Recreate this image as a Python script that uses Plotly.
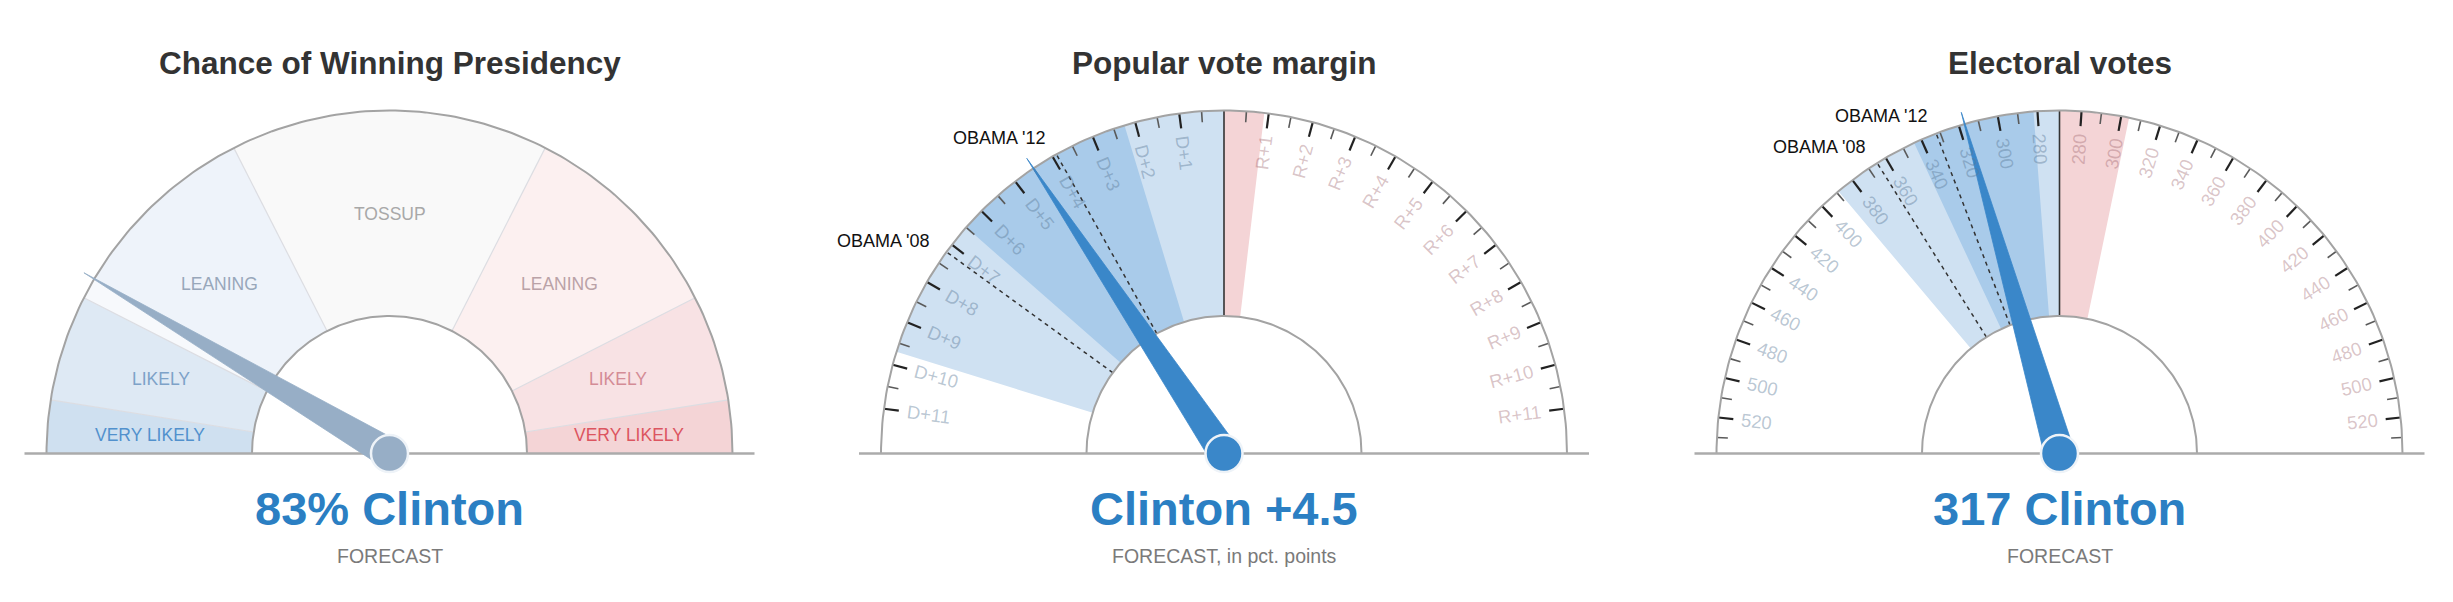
import numpy as np
import plotly.graph_objects as go

W, H = 2453, 602

# ------------------------------------------------------------------ data
titles = ["Chance of Winning Presidency", "Popular vote margin", "Electoral votes"]
headlines = ["83% Clinton", "Clinton +4.5", "317 Clinton"]
sublines = ["FORECAST", "FORECAST, in pct. points", "FORECAST"]

# Gauge 1 : chance of winning (Clinton win probability, %)
chance_edges = [100, 95, 85, 65, 35, 15, 5, 0]
chance_labels = ["VERY LIKELY", "LIKELY", "LEANING", "TOSSUP", "LEANING", "LIKELY", "VERY LIKELY"]
chance_fills = ["#cfe0f0", "#dee9f4", "#eef3fa", "#f9f9f9", "#fcf0f0", "#f8e2e4", "#f4d4d6"]
chance_label_colors = ["#5291cd", "#7da2c8", "#98a7ba", "#a8a8a8", "#baa2a7", "#d48c96", "#dc5560"]
clinton_chance = 83

# Gauge 2 : popular vote margin (positive = Democratic lead, pct. points)
margin_max = 12
margin_forecast = 4.5
margin_band_80 = [9.7, -0.9]
margin_band_50 = [6.5, 2.25]
margin_past_names = ["OBAMA '08", "OBAMA '12"]
margin_past_values = [7.2, 3.9]
margin_tick_values = [1, 2, 3, 4, 5, 6, 7, 8, 9, 10, 11]
margin_tick_labels_d = ["D+1", "D+2", "D+3", "D+4", "D+5", "D+6", "D+7", "D+8", "D+9", "D+10", "D+11"]
margin_tick_labels_r = ["R+1", "R+2", "R+3", "R+4", "R+5", "R+6", "R+7", "R+8", "R+9", "R+10", "R+11"]

# Gauge 3 : electoral votes (Clinton electoral votes)
ev_total = 538
ev_forecast = 317
ev_band_80 = [389, 234]
ev_band_50 = [344, 282]
ev_past_names = ["OBAMA '08", "OBAMA '12"]
ev_past_values = [365, 332]
ev_tick_values = [280, 300, 320, 340, 360, 380, 400, 420, 440, 460, 480, 500, 520]
ev_tick_labels = ["280", "300", "320", "340", "360", "380", "400", "420", "440", "460", "480", "500", "520"]

# ------------------------------------------------------------------ geometry / style
CX = [389.5, 1224.0, 2059.5]
CY = 453.5
R_OUT, R_IN = 343.0, 137.5
BASE_HALF = 365
LIGHT_BLUE, MID_BLUE, LIGHT_RED = "#cfe1f2", "#a9cbea", "#f4d4d6"
NEEDLE_BLUE, NEEDLE_GREY = "#3a87c9", "#97aec6"
HEAD_BLUE = "#2b7fc3"
FONT = "Liberation Sans, Arial, sans-serif"


def ang_chance(p):
    return p / 100.0 * 180.0


def ang_margin(m):
    return 90.0 + m * 90.0 / margin_max


def ang_ev(e):
    half = ev_total / 2.0
    return 90.0 + (e - half) * 90.0 / half


def pt(cx, r, th):
    t = np.radians(th)
    return cx + r * np.cos(t), CY - r * np.sin(t)


fig = go.Figure()


def add_wedge(cx, th1, th2, color, r1=R_IN, r2=R_OUT):
    n = max(6, int(abs(th2 - th1) * 2))
    ts = np.radians(np.linspace(th1, th2, n))
    xo = cx + r2 * np.cos(ts)
    yo = CY - r2 * np.sin(ts)
    xi = cx + r1 * np.cos(ts[::-1])
    yi = CY - r1 * np.sin(ts[::-1])
    xs = np.concatenate([xo, xi, xo[:1]])
    ys = np.concatenate([yo, yi, yo[:1]])
    fig.add_trace(go.Scatter(x=xs, y=ys, mode="lines", fill="toself", fillcolor=color,
                             line=dict(width=0, color=color), hoverinfo="skip"))


def add_segments(segs, color, width, dash=None):
    xs, ys = [], []
    for (x0, y0, x1, y1) in segs:
        xs += [x0, x1, None]
        ys += [y0, y1, None]
    fig.add_trace(go.Scatter(x=xs, y=ys, mode="lines",
                             line=dict(color=color, width=width, dash=dash),
                             hoverinfo="skip"))


def radial(cx, th, r0, r1):
    x0, y0 = pt(cx, r0, th)
    x1, y1 = pt(cx, r1, th)
    return (x0, y0, x1, y1)


def add_frame(cx):
    xs, ys = [], []
    for r in (R_OUT, R_IN):
        ts = np.radians(np.linspace(0, 180, 181))
        xs += list(cx + r * np.cos(ts)) + [None]
        ys += list(CY - r * np.sin(ts)) + [None]
    fig.add_trace(go.Scatter(x=xs, y=ys, mode="lines", line=dict(color="#a3a3a3", width=2),
                             hoverinfo="skip"))
    add_segments([(cx - BASE_HALF, CY, cx + BASE_HALF, CY)], "#ababab", 2.5)


def add_needle(cx, th, color, r_tip=355, half=15):
    t = np.radians(th)
    tx, ty = pt(cx, r_tip, th)
    px, py = -np.sin(t), -np.cos(t)  # perpendicular in screen coords
    xs = [cx + half * px, tx, cx - half * px, cx + half * px]
    ys = [CY + half * py, ty, CY - half * py, CY + half * py]
    fig.add_trace(go.Scatter(x=xs, y=ys, mode="lines", fill="toself", fillcolor=color,
                             line=dict(color=color, width=0.8), hoverinfo="skip"))
    fig.add_trace(go.Scatter(x=[cx], y=[CY], mode="markers",
                             marker=dict(size=37, color=color, line=dict(color="#eef3f8", width=2.5)),
                             hoverinfo="skip"))


annotations = []


def ann(x, y, text, size, color, angle=0, xanchor="center", bold=False):
    annotations.append(dict(x=x, y=y, xref="x", yref="y", text=("<b>%s</b>" % text) if bold else text,
                            showarrow=False, xanchor=xanchor, yanchor="middle", textangle=angle,
                            font=dict(family=FONT, size=size, color=color)))


CW = {c: 0.556 for c in "0123456789"}
CW.update({"+": 0.584, "D": 0.722, "R": 0.722})


def text_w(s, size):
    return sum(CW.get(c, 0.6) for c in s) * size


def tick_label(cx, th, text, color, size=18.5):
    r = 320 - text_w(text, size) / 2.0
    x, y = pt(cx, r, th)
    angle = -th if th < 90 else 180 - th
    ann(x, y, text, size, color, angle=angle)


# ------------------------------------------------------------------ common texts
for i in range(3):
    ann(CX[i], 62.8, titles[i], 31.5, "#333333", bold=True)
    ann(CX[i], 508.5, headlines[i], 47, HEAD_BLUE, bold=True)
    ann(CX[i], 556, sublines[i], 19.5, "#7a7a7a")

# ------------------------------------------------------------------ gauge 1
c = CX[0]
for k in range(len(chance_labels)):
    add_wedge(c, ang_chance(chance_edges[k]), ang_chance(chance_edges[k + 1]), chance_fills[k])
# lighter sliver between needle and edge of its segment
add_wedge(c, ang_chance(clinton_chance), ang_chance(chance_edges[2]), "#f7f9fc")
add_segments([radial(c, ang_chance(e), R_IN, R_OUT) for e in chance_edges[1:-1]], "#dcdde2", 1.2)
for k, lab in enumerate(chance_labels):
    th = (ang_chance(chance_edges[k]) + ang_chance(chance_edges[k + 1])) / 2
    x, y = pt(c, 240, th)
    ann(x, y, lab, 17.5, chance_label_colors[k])
add_frame(c)
add_needle(c, ang_chance(clinton_chance), NEEDLE_GREY)

# ------------------------------------------------------------------ gauge 2
c = CX[1]
add_wedge(c, ang_margin(margin_band_80[0]), ang_margin(0), LIGHT_BLUE)
add_wedge(c, ang_margin(0), ang_margin(margin_band_80[1]), LIGHT_RED)
add_wedge(c, ang_margin(margin_band_50[0]), ang_margin(margin_band_50[1]), MID_BLUE)
majors, minors = [], []
for v in margin_tick_values:
    for s in (1, -1):
        majors.append(radial(c, ang_margin(s * v), R_OUT - 15, R_OUT))
        minors.append(radial(c, ang_margin(s * (v - 0.5)), R_OUT - 11, R_OUT))
add_segments(minors, "#5a5a5a", 1.6)
add_segments(majors, "#222222", 2.2)
for v, ld, lr in zip(margin_tick_values, margin_tick_labels_d, margin_tick_labels_r):
    tick_label(c, ang_margin(v), ld, "rgba(90,120,150,0.42)")
    tick_label(c, ang_margin(-v), lr, "rgba(150,90,100,0.36)")
add_segments([radial(c, ang_margin(v), R_IN, R_OUT) for v in margin_past_values], "#333333", 1.5, dash="4px,4px")
add_segments([radial(c, ang_margin(0), R_IN, R_OUT)], "#333333", 1.6)
for name, v in zip(margin_past_names, margin_past_values):
    x, y = pt(c, 362, ang_margin(v))
    ann(x, y, name, 18, "#111111", xanchor="right")
add_frame(c)
add_needle(c, ang_margin(margin_forecast), NEEDLE_BLUE)

# ------------------------------------------------------------------ gauge 3
c = CX[2]
half = ev_total / 2.0
add_wedge(c, ang_ev(ev_band_80[0]), ang_ev(half), LIGHT_BLUE)
add_wedge(c, ang_ev(half), ang_ev(ev_band_80[1]), LIGHT_RED)
add_wedge(c, ang_ev(ev_band_50[0]), ang_ev(ev_band_50[1]), MID_BLUE)
majors, minors = [], []
for v in ev_tick_values:
    majors.append(radial(c, ang_ev(v), R_OUT - 15, R_OUT))
    majors.append(radial(c, ang_ev(ev_total - v), R_OUT - 15, R_OUT))
    minors.append(radial(c, ang_ev(v + 10), R_OUT - 11, R_OUT))
    minors.append(radial(c, ang_ev(ev_total - v - 10), R_OUT - 11, R_OUT))
add_segments(minors, "#5a5a5a", 1.6)
add_segments(majors, "#222222", 2.2)
for v, lab in zip(ev_tick_values, ev_tick_labels):
    tick_label(c, ang_ev(v), lab, "rgba(90,120,150,0.42)")
    tick_label(c, ang_ev(ev_total - v), lab, "rgba(150,90,100,0.36)")
add_segments([radial(c, ang_ev(v), R_IN, R_OUT) for v in ev_past_values], "#333333", 1.5, dash="4px,4px")
add_segments([radial(c, ang_ev(half), R_IN, R_OUT)], "#333333", 1.6)
for name, v in zip(ev_past_names, ev_past_values):
    x, y = pt(c, 362, ang_ev(v))
    ann(x, y, name, 18, "#111111", xanchor="right")
add_frame(c)
add_needle(c, ang_ev(ev_forecast), NEEDLE_BLUE)

# ------------------------------------------------------------------ layout
fig.update_layout(
    width=W, height=H, margin=dict(l=0, r=0, t=0, b=0),
    paper_bgcolor="white", plot_bgcolor="white", showlegend=False,
    xaxis=dict(range=[0, W], visible=False, fixedrange=True),
    yaxis=dict(range=[H, 0], visible=False, fixedrange=True),
    annotations=annotations,
)
fig.write_html("out.html")
